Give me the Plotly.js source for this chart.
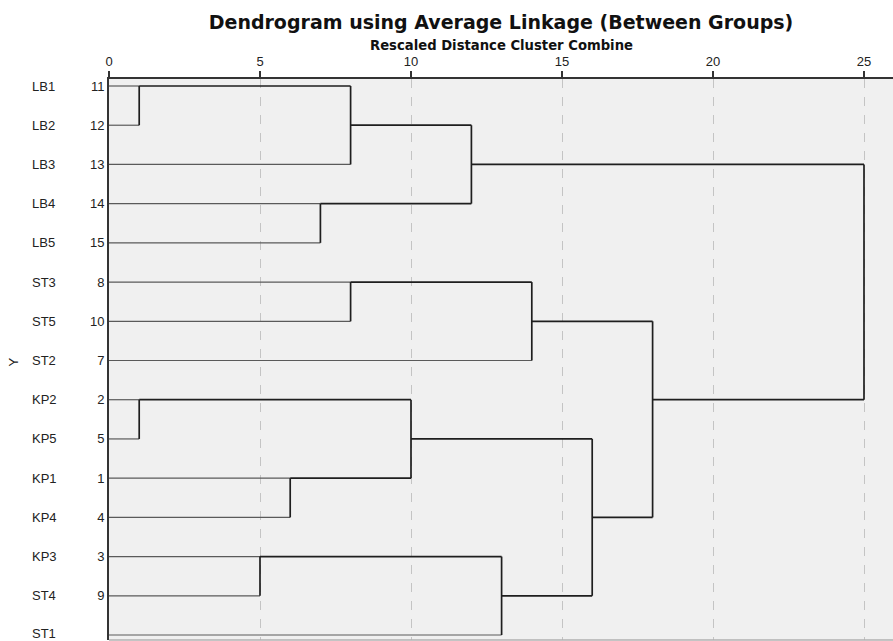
<!DOCTYPE html>
<html>
<head>
<meta charset="utf-8">
<script src="https://cdn.plot.ly/plotly-3.0.1.min.js"></script>
<style>html,body{margin:0;padding:0;background:#fff;}#chart{width:893px;height:641px;}</style>
</head>
<body>
<div id="chart"></div>
<script>
// Leaf order (top to bottom), with their case numbers
const leafLabels = ['LB1','LB2','LB3','LB4','LB5','ST3','ST5','ST2','KP2','KP5','KP1','KP4','KP3','ST4','ST1'];
const caseNumbers = [11,12,13,14,15,8,10,7,2,5,1,4,3,9,6];

// Agglomeration steps (rescaled distance). Clusters created are named C1, C2, ...
const mergeA =    ['LB1','KP2','KP3','KP1','LB4','C1','ST3','C2','C6','C3','C7','C8','C11','C9'];
const mergeB =    ['LB2','KP5','ST4','KP4','LB5','LB3','ST5','C4','C5','ST1','ST2','C10','C12','C13'];
const mergeDist = [1,    1,    5,    6,    7,    8,   8,    10,  12,  13,   14,   16,   18,   25];

const xTicks = [0,5,10,15,20,25];

// Build the dendrogram segments
const nodes = {};
leafLabels.forEach((l,i)=>{ nodes[l] = {y:i, x:0, leaf:true}; });
const leafX=[], leafY=[], clX=[], clY=[];
function addSeg(arrX, arrY, x0,y0,x1,y1){ arrX.push(x0,x1,null); arrY.push(y0,y1,null); }
mergeA.forEach((a,k)=>{
  const b = mergeB[k], d = mergeDist[k];
  const na = nodes[a], nb = nodes[b];
  [na,nb].forEach(n=>{
    if(n.leaf) addSeg(leafX,leafY,n.x,n.y,d,n.y);
    else addSeg(clX,clY,n.x,n.y,d,n.y);
  });
  addSeg(clX,clY,d,na.y,d,nb.y);
  nodes['C'+(k+1)] = {y:Math.floor((na.y+nb.y)/2), x:d, leaf:false};
});

const rows = leafLabels.map((_,i)=>i);

const traces = [
  {x:leafX, y:leafY, mode:'lines', line:{color:'#5a5a5a', width:1.2}, hoverinfo:'skip', showlegend:false},
  {x:clX, y:clY, mode:'lines', line:{color:'#1e1e1e', width:1.7}, hoverinfo:'skip', showlegend:false}
];

const FONT = 'Liberation Sans, Arial, sans-serif';
const plotW = 893-109-0;
const annotations = leafLabels.map((l,i)=>({
  xref:'paper', yref:'y', x:(30-109)/plotW, y:i, xanchor:'left', yanchor:'middle',
  yshift: i === leafLabels.length-1 ? 2 : 0,
  text:l, showarrow:false, font:{family:FONT, size:13, color:'#222'}
}));
annotations.push({
  xref:'paper', yref:'y', x:(13-109)/plotW, y:7.05, xanchor:'center', yanchor:'middle',
  text:'Y', textangle:-90, showarrow:false, font:{family:FONT, size:13, color:'#222'}
});
annotations.push({
  xref:'paper', yref:'paper', x:0.5, y:1+(79-45)/561, xanchor:'center', yanchor:'middle',
  text:'<b>Rescaled Distance Cluster Combine</b>', showarrow:false,
  font:{family:'DejaVu Sans, sans-serif', size:13.2, color:'#111'}
});

const layout = {
  width:893, height:641,
  margin:{l:109, r:0, t:79, b:1},
  paper_bgcolor:'#ffffff', plot_bgcolor:'#f0f0f0',
  title:{text:'<b>Dendrogram using Average Linkage (Between Groups)</b>', xref:'paper', x:0.5, xanchor:'center',
         yref:'container', y:1-22.5/641, yanchor:'middle',
         font:{family:'DejaVu Sans, sans-serif', size:19, color:'#111'}},
  xaxis:{side:'top', range:[0, plotW/30.2], tickvals:xTicks, ticktext:xTicks.map(String),
         ticks:'outside', ticklen:6, tickwidth:2, tickcolor:'#333',
         showline:true, linewidth:2, linecolor:'#333',
         showgrid:true, gridcolor:'#c4c4c4', griddash:'dash', gridwidth:1, zeroline:false,
         tickfont:{family:FONT, size:13, color:'#222'}, fixedrange:true},
  yaxis:{range:[14+5/39.2, -7/39.2], tickvals:rows, ticktext:caseNumbers.map(String), ticks:'',
         showline:true, linewidth:2, linecolor:'#333', showgrid:false, zeroline:false,
         tickfont:{family:FONT, size:13, color:'#222'}, fixedrange:true},
  shapes:[{type:'line', xref:'paper', yref:'paper', x0:0, x1:1, y0:0, y1:0, line:{color:'#b0b0b0', width:1.5}}],
  annotations:annotations,
  showlegend:false
};

Plotly.newPlot('chart', traces, layout, {displayModeBar:false, staticPlot:true});
</script>
</body>
</html>
